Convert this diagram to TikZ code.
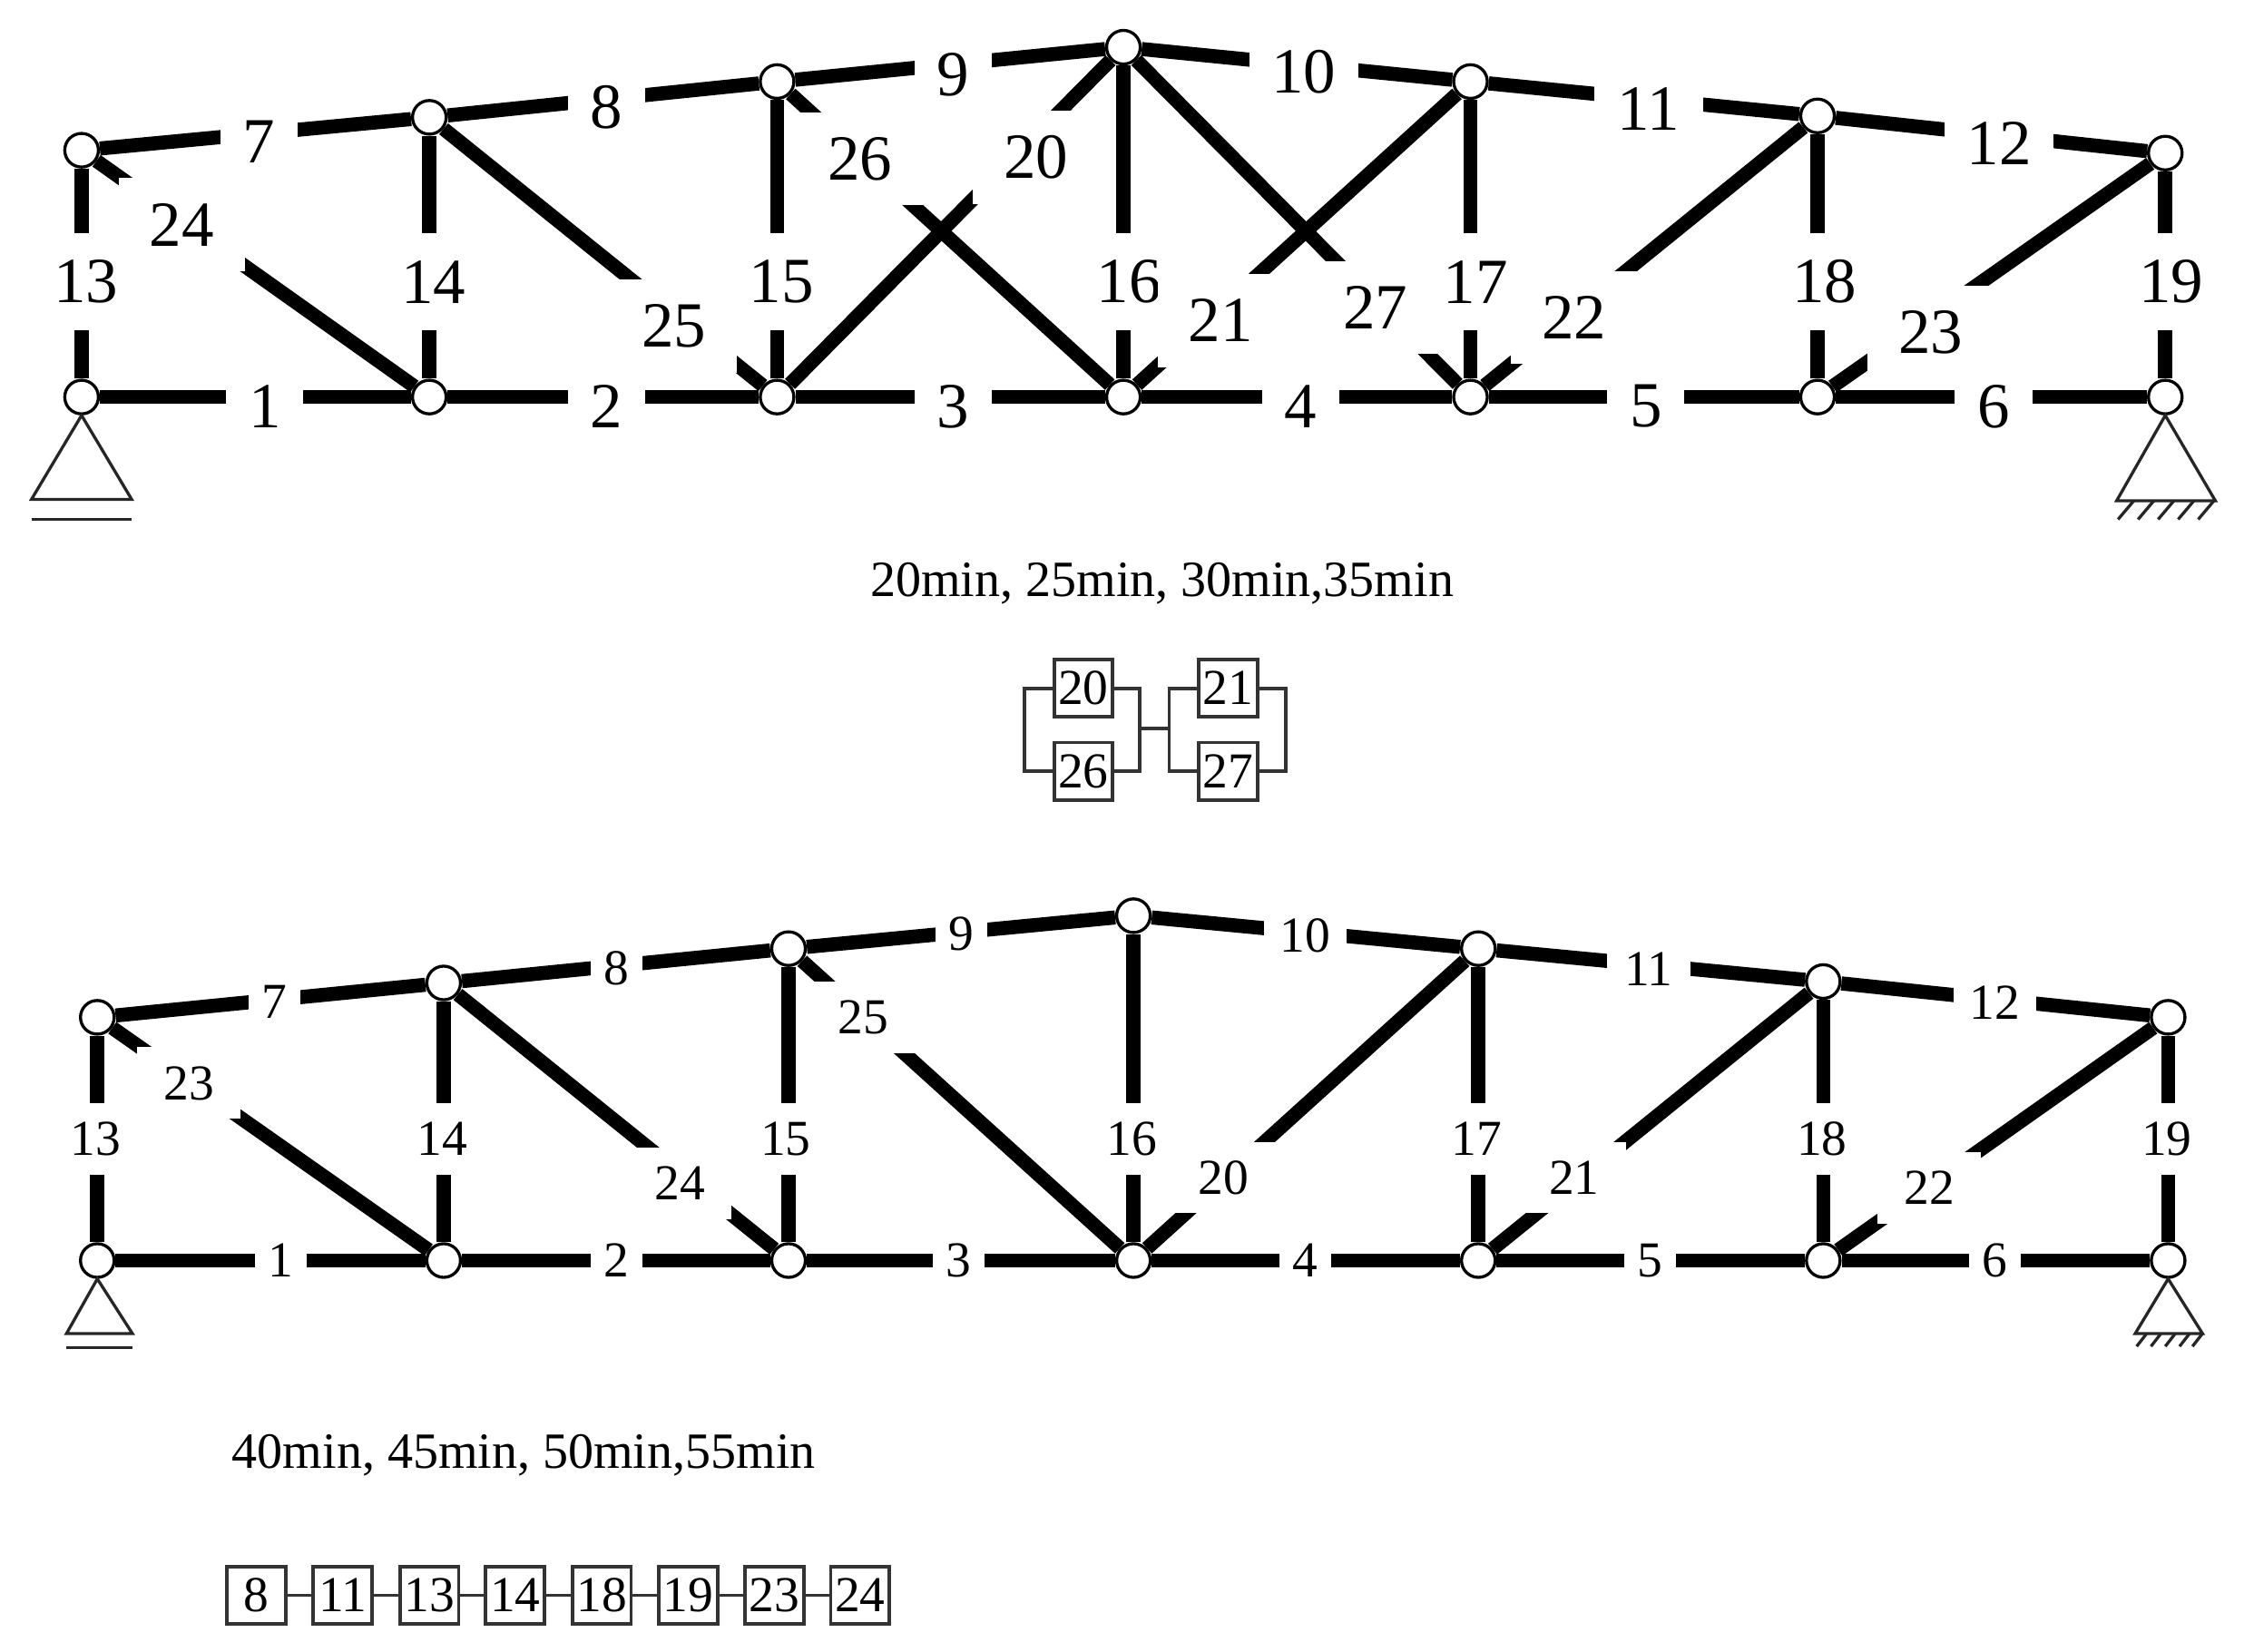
\documentclass[tikz,border=0pt]{standalone}
\usepackage{fontspec}
\setmainfont{Liberation Serif}
\tikzstyle{joint} = [circle, draw=black, fill=white, line width=0.6pt, minimum size=0.235cm, inner sep=0pt]
\tikzstyle{bar} = [line width=2.8pt]
\tikzstyle{biglabel} = [fill=white, font=\fontsize{12.8}{12.8}\selectfont, inner xsep=0.02cm, inner ysep=0pt, minimum height=0.68cm, minimum width=0.54cm]
\tikzstyle{smalllabel} = [fill=white, font=\fontsize{10}{10}\selectfont, inner xsep=0.01cm, inner ysep=0pt, minimum height=0.5cm, minimum width=0.36cm]
\tikzstyle{bigchord} = [biglabel, minimum width=0.76cm]
\tikzstyle{bigwide} = [biglabel, minimum width=0.88cm, minimum height=0.65cm]
\tikzstyle{smallchord} = [smalllabel, minimum width=0.58cm]
\tikzstyle{smallwide} = [smalllabel, minimum width=0.72cm]
\tikzstyle{support} = [line width=0.6pt, black!85]
\tikzstyle{member} = [rectangle, draw=black!80, line width=0.7pt, fill=white, minimum width=0.41cm, minimum height=0.40cm, inner sep=0pt, font=\fontsize{10}{10}\selectfont]
\tikzstyle{rail} = [line width=0.7pt, black!80]
\tikzstyle{caption} = [font=\fontsize{10.1}{10.1}\selectfont, inner sep=0pt]

\begin{document}
\begin{tikzpicture}[x=0.01cm,y=-0.01cm]
\useasboundingbox (0,0) rectangle (1568,1154);

% upper truss
\node (lowA1) [joint] at (57,277.5) {};
\node (lowA2) [joint] at (300,277.5) {};
\node (lowA3) [joint] at (543,277.5) {};
\node (lowA4) [joint] at (785,277.5) {};
\node (lowA5) [joint] at (1027.5,277.5) {};
\node (lowA6) [joint] at (1270,277.5) {};
\node (lowA7) [joint] at (1513,277.5) {};
\node (upA1) [joint] at (57,105) {};
\node (upA2) [joint] at (300,82) {};
\node (upA3) [joint] at (543,57) {};
\node (upA4) [joint] at (785,33) {};
\node (upA5) [joint] at (1027.5,57) {};
\node (upA6) [joint] at (1270,81) {};
\node (upA7) [joint] at (1513,107) {};

\draw [bar] (lowA1) -- (lowA2);
\draw [bar] (lowA2) -- (lowA3);
\draw [bar] (lowA3) -- (lowA4);
\draw [bar] (lowA4) -- (lowA5);
\draw [bar] (lowA5) -- (lowA6);
\draw [bar] (lowA6) -- (lowA7);
\draw [bar] (upA1) -- (upA2);
\draw [bar] (upA2) -- (upA3);
\draw [bar] (upA3) -- (upA4);
\draw [bar] (upA4) -- (upA5);
\draw [bar] (upA5) -- (upA6);
\draw [bar] (upA6) -- (upA7);
\draw [bar] (lowA1) -- (upA1);
\draw [bar] (lowA2) -- (upA2);
\draw [bar] (lowA3) -- (upA3);
\draw [bar] (lowA4) -- (upA4);
\draw [bar] (lowA5) -- (upA5);
\draw [bar] (lowA6) -- (upA6);
\draw [bar] (lowA7) -- (upA7);
\draw [bar] (lowA3) -- (upA4);
\draw [bar] (lowA4) -- (upA5);
\draw [bar] (lowA5) -- (upA6);
\draw [bar] (lowA6) -- (upA7);
\draw [bar] (upA1) -- (lowA2);
\draw [bar] (upA2) -- (lowA3);
\draw [bar] (upA3) -- (lowA4);
\draw [bar] (upA4) -- (lowA5);

\node (labA1) [biglabel] at (185,284) {1};
\node (labA2) [biglabel] at (424,284) {2};
\node (labA3) [biglabel] at (666,284) {3};
\node (labA4) [biglabel] at (909,284) {4};
\node (labA5) [biglabel] at (1150,284) {5};
\node (labA6) [biglabel] at (1393,284) {6};
\node (labA7) [biglabel] at (181,99) {7};
\node (labA8) [biglabel] at (424,75) {8};
\node (labA9) [biglabel] at (666,52) {9};
\node (labA10) [bigchord] at (911,50) {10};
\node (labA11) [bigchord] at (1152,76) {11};
\node (labA12) [bigchord] at (1397,100) {12};
\node (labA13) [biglabel] at (60,197) {13};
\node (labA14) [biglabel] at (303,197) {14};
\node (labA15) [biglabel] at (546,197) {15};
\node (labA16) [biglabel] at (789,197) {16};
\node (labA17) [biglabel] at (1031,197) {17};
\node (labA18) [biglabel] at (1275,197) {18};
\node (labA19) [biglabel] at (1517,197) {19};
\node (labA20) [bigwide] at (724,110) {20};
\node (labA21) [bigwide] at (853,224) {21};
\node (labA22) [bigwide] at (1100,222) {22};
\node (labA23) [bigwide] at (1349,232) {23};
\node (labA24) [bigwide] at (127,157) {24};
\node (labA25) [bigwide] at (471,228) {25};
\node (labA26) [bigwide] at (601,111) {26};
\node (labA27) [bigwide] at (961,215) {27};

% supports of the upper truss
\coordinate (baseA1) at (22,349);
\coordinate (baseA2) at (92,349);
\coordinate (floorA1) at (22,363);
\coordinate (floorA2) at (92,363);
\draw [support] (lowA1.south) -- (baseA1) -- (baseA2) -- cycle;
\draw [support] (floorA1) -- (floorA2);
\coordinate (baseA3) at (1479,350);
\coordinate (baseA4) at (1548,350);
\draw [support] (lowA7.south) -- (baseA3) -- (baseA4) -- cycle;
\draw [support] (1491,350) -- (1480,363) (1505,350) -- (1494,363) (1519,350) -- (1508,363) (1533,350) -- (1522,363) (1547,350) -- (1536,363);

\node (timeA) [caption] at (812,408) {20min, 25min, 30min,35min};

% parallel blocks
\node (box20) [member] at (757,481) {20};
\node (box26) [member] at (757,539) {26};
\node (box21) [member] at (858,481) {21};
\node (box27) [member] at (858,539) {27};
\coordinate (railA) at (716,509);
\coordinate (railB) at (796.5,509);
\coordinate (railC) at (817,509);
\coordinate (railD) at (898.5,509);
\draw [rail] (box20.west) -| (railA) |- (box26.west);
\draw [rail] (box20.east) -| (railB) |- (box26.east);
\draw [rail] (box21.west) -| (railC) |- (box27.west);
\draw [rail] (box21.east) -| (railD) |- (box27.east);
\draw [rail] (railB) -- (railC);

% lower truss
\node (lowB1) [joint] at (68,881) {};
\node (lowB2) [joint] at (310,881) {};
\node (lowB3) [joint] at (551,881) {};
\node (lowB4) [joint] at (792,881) {};
\node (lowB5) [joint] at (1033,881) {};
\node (lowB6) [joint] at (1274,881) {};
\node (lowB7) [joint] at (1515,881) {};
\node (upB1) [joint] at (68,711) {};
\node (upB2) [joint] at (310,687) {};
\node (upB3) [joint] at (551,663) {};
\node (upB4) [joint] at (792,640) {};
\node (upB5) [joint] at (1033,663) {};
\node (upB6) [joint] at (1274,686) {};
\node (upB7) [joint] at (1515,711) {};

\draw [bar] (lowB1) -- (lowB2);
\draw [bar] (lowB2) -- (lowB3);
\draw [bar] (lowB3) -- (lowB4);
\draw [bar] (lowB4) -- (lowB5);
\draw [bar] (lowB5) -- (lowB6);
\draw [bar] (lowB6) -- (lowB7);
\draw [bar] (upB1) -- (upB2);
\draw [bar] (upB2) -- (upB3);
\draw [bar] (upB3) -- (upB4);
\draw [bar] (upB4) -- (upB5);
\draw [bar] (upB5) -- (upB6);
\draw [bar] (upB6) -- (upB7);
\draw [bar] (lowB1) -- (upB1);
\draw [bar] (lowB2) -- (upB2);
\draw [bar] (lowB3) -- (upB3);
\draw [bar] (lowB4) -- (upB4);
\draw [bar] (lowB5) -- (upB5);
\draw [bar] (lowB6) -- (upB6);
\draw [bar] (lowB7) -- (upB7);
\draw [bar] (lowB4) -- (upB5);
\draw [bar] (lowB5) -- (upB6);
\draw [bar] (lowB6) -- (upB7);
\draw [bar] (upB1) -- (lowB2);
\draw [bar] (upB2) -- (lowB3);
\draw [bar] (upB3) -- (lowB4);

\node (labB1) [smalllabel] at (196,881) {1};
\node (labB2) [smalllabel] at (431,881) {2};
\node (labB3) [smalllabel] at (670,881) {3};
\node (labB4) [smalllabel] at (912,881) {4};
\node (labB5) [smalllabel] at (1153,881) {5};
\node (labB6) [smalllabel] at (1394,881) {6};
\node (labB7) [smalllabel] at (192,700) {7};
\node (labB8) [smalllabel] at (431,677) {8};
\node (labB9) [smalllabel] at (672,653) {9};
\node (labB10) [smallchord] at (912,654) {10};
\node (labB11) [smallchord] at (1152,677) {11};
\node (labB12) [smallchord] at (1394,701) {12};
\node (labB13) [smalllabel] at (67,796) {13};
\node (labB14) [smalllabel] at (309,796) {14};
\node (labB15) [smalllabel] at (549,796) {15};
\node (labB16) [smalllabel] at (791,796) {16};
\node (labB17) [smalllabel] at (1032,796) {17};
\node (labB18) [smalllabel] at (1273,796) {18};
\node (labB19) [smalllabel] at (1514,796) {19};
\node (labB20) [smallwide] at (855,823) {20};
\node (labB21) [smallwide] at (1100,823) {21};
\node (labB22) [smallwide] at (1348,830) {22};
\node (labB23) [smallwide] at (132,757) {23};
\node (labB24) [smallwide] at (475,827) {24};
\node (labB25) [smallwide] at (603,711) {25};

% supports of the lower truss
\coordinate (baseB1) at (46.5,932);
\coordinate (baseB2) at (92.5,932);
\coordinate (floorB1) at (46.5,942);
\coordinate (floorB2) at (92.5,942);
\draw [support] (lowB1.south) -- (baseB1) -- (baseB2) -- cycle;
\draw [support] (floorB1) -- (floorB2);
\coordinate (baseB3) at (1492,932);
\coordinate (baseB4) at (1539,932);
\draw [support] (lowB7.south) -- (baseB3) -- (baseB4) -- cycle;
\draw [support] (1500,932) -- (1493,941) (1510,932) -- (1503,941) (1520,932) -- (1513,941) (1530,932) -- (1523,941) (1539,932) -- (1532,941);

\node (timeB) [caption] at (366,1017) {40min, 45min, 50min,55min};

% series blocks
\node (box8) [member] at (179,1115) {8};
\node (box11) [member] at (239.5,1115) {11};
\node (box13) [member] at (300,1115) {13};
\node (box14) [member] at (360,1115) {14};
\node (box18) [member] at (420.5,1115) {18};
\node (box19) [member] at (481,1115) {19};
\node (box23) [member] at (541,1115) {23};
\node (box24) [member] at (601,1115) {24};
\draw [rail] (box8) -- (box11);
\draw [rail] (box11) -- (box13);
\draw [rail] (box13) -- (box14);
\draw [rail] (box14) -- (box18);
\draw [rail] (box18) -- (box19);
\draw [rail] (box19) -- (box23);
\draw [rail] (box23) -- (box24);

\end{tikzpicture}
\end{document}
